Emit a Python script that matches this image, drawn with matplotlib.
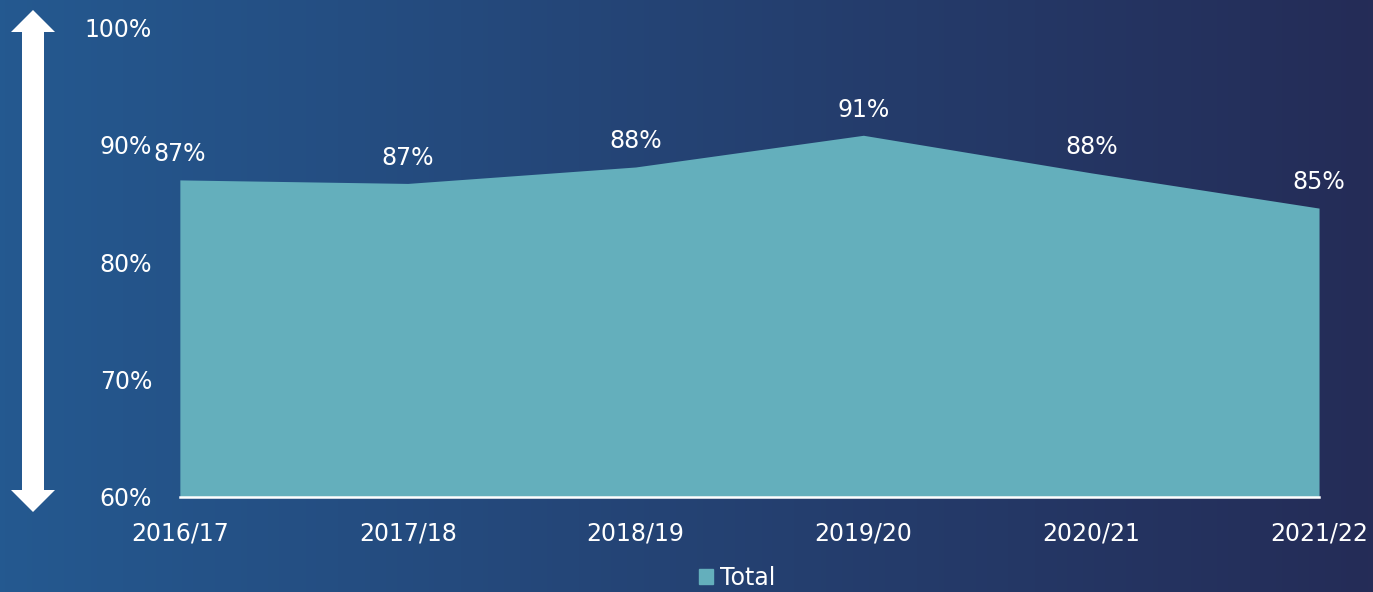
import numpy as np
import matplotlib
matplotlib.use("Agg")
from matplotlib import pyplot as plt
from matplotlib.patches import Polygon, Patch

years = ["2016/17", "2017/18", "2018/19", "2019/20", "2020/21", "2021/22"]
total = [87.0, 86.7, 88.1, 90.8, 87.6, 84.6]
labels = ["87%", "87%", "88%", "91%", "88%", "85%"]
yticks = [60, 70, 80, 90, 100]

plt.rcParams['font.family'] = ['DejaVu Sans']

fig = plt.figure(figsize=(13.73, 5.92), dpi=100)

# background gradient, blue to navy left to right
bg = fig.add_axes([0, 0, 1, 1], zorder=-10)
grad = np.linspace(0, 1, 256)
left_c = np.array([36, 89, 144]) / 255
right_c = np.array([37, 44, 87]) / 255
img = left_c[None, :] * (1 - grad[:, None]) + right_c[None, :] * grad[:, None]
bg.imshow(img[None, :, :], aspect='auto', extent=[0, 1, 0, 1])
bg.set_axis_off()

ax = fig.add_axes([0.131, 0.1605, 0.8297, 0.7935])
ax.patch.set_alpha(0)
x = np.arange(len(years))
ax.fill_between(x, 60, total, color='#64afbc', linewidth=0, label='Total')
for xi, v, lab in zip(x, total, labels):
    ax.annotate(lab, (xi, v), xytext=(0, 18.5), textcoords='offset points',
                ha='center', va='center', color='white', fontsize=17)

ax.set_xlim(0, len(years) - 1)
ax.set_ylim(60, 100)
ax.set_xticks(x)
ax.set_xticklabels(years)
ax.set_yticks(yticks)
ax.set_yticklabels([f"{t}%" for t in yticks])
ax.tick_params(axis='both', length=0, colors='white', labelsize=17)
ax.tick_params(axis='y', pad=20)
ax.tick_params(axis='x', pad=18)
for s in ['top', 'right', 'left']:
    ax.spines[s].set_visible(False)
ax.spines['bottom'].set_color('white')
ax.spines['bottom'].set_linewidth(1.8)

# double-headed arrow on the left
W, H = 1373, 592
pts = [(33, 10), (55, 32), (44, 32), (44, 490), (55, 490), (33, 512),
       (11, 490), (22, 490), (22, 32), (11, 32)]
pts = [(px / W, 1 - py / H) for px, py in pts]
fig.patches.append(Polygon(pts, closed=True, facecolor='white', edgecolor='none',
                           transform=fig.transFigure))

fig.legend(handles=[Patch(color='#64afbc', label='Total')], loc='center',
           bbox_to_anchor=(737 / W, 1 - 578 / H), frameon=False, fontsize=17,
           labelcolor='white', handlelength=0.6, handleheight=0.6, handletextpad=0.3,
           borderpad=0.1)

fig.savefig('out.png', dpi=100)
